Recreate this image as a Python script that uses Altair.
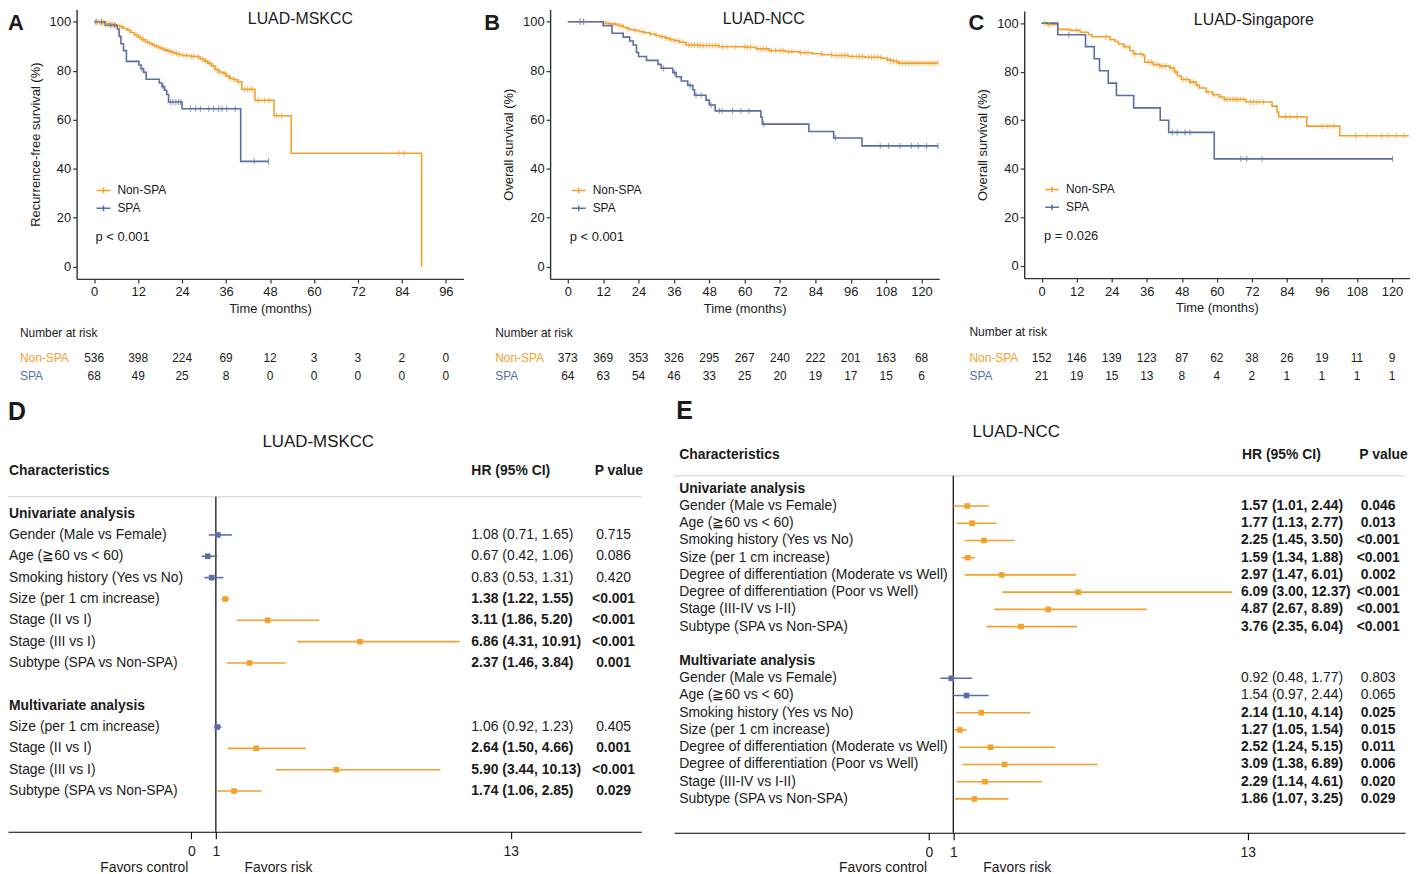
import altair as alt
import numpy as np
import pandas as pd

# ---------------------------------------------------------------- data
GROUPS = ["Non-SPA", "SPA"]

# A: LUAD-MSKCC, recurrence-free survival (step points, censor times, risk table)
a_non_t = [0, 1.5, 3, 4.5, 6, 7, 8, 9, 10, 11, 12, 13, 14, 15, 16, 17, 18, 19, 20, 21, 22, 23, 24,
           26, 28, 29, 30, 31, 32, 33, 34, 35, 36, 37, 38, 39, 40.3, 43.9, 49.1, 53.8, 89.4]
a_non_s = [100, 99.6, 99.2, 98.8, 98.4, 97.9, 97.2, 96.5, 95.6, 94.6, 93.6, 92.6, 91.7, 91.0, 90.3,
           89.7, 89.1, 88.5, 88.0, 87.5, 87.0, 86.6, 86.2, 85.9, 85.6, 84.8, 83.9, 83.0, 81.9, 80.4,
           79.5, 79.0, 77.8, 76.8, 76.4, 75.5, 72.4, 67.9, 61.6, 46.3, 0]
a_non_cens = [0.5, 1, 1.8, 2.5, 3.2, 4, 5, 5.8, 7.5, 9.5, 11.5, 12.5, 13.5, 14.5, 15.5, 16.5, 17.5,
              18.5, 19.5, 20.5, 21.5, 22.5, 23.2, 24.5, 25.2, 26.5, 27.2, 28.5, 29.5, 30.5, 31.5,
              32.5, 33.5, 34.2, 35.5, 36.5, 37.2, 38.2, 39.5, 41, 41.8, 42.5, 43.2, 44.8, 46.5,
              47.8, 49.8, 51.2, 83.2, 84.5]
a_spa_t = [0, 3, 6.3, 6.8, 7.3, 8.0, 8.8, 12.2, 12.8, 13.5, 14.2, 17.8, 18.5, 19.2, 19.8, 20.3,
           24.0, 40.0, 47.6]
a_spa_s = [100, 98.5, 97.0, 94.0, 91.0, 88.2, 83.8, 82.3, 80.8, 79.3, 76.5, 75.0, 73.5, 72.0, 70.3,
           67.2, 64.5, 43.0, 43.0]
a_spa_cens = [0.5, 2, 4.5, 5.5, 13, 18.8, 20.8, 21.5, 22.3, 23.0, 23.6, 26.3, 27.7, 29.0, 31.3,
              32.6, 34.0, 34.9, 36.2, 38.5, 43.7, 47.6]
a_risk_t = [0, 12, 24, 36, 48, 60, 72, 84, 96]
a_risk_non = [536, 398, 224, 69, 12, 3, 3, 2, 0]
a_risk_spa = [68, 49, 25, 8, 0, 0, 0, 0, 0]

# B: LUAD-NCC, overall survival
b_non_t = [0, 12, 14, 15.5, 17, 18.8, 20, 21, 22.5, 24.4, 26, 27.8, 29.5, 31.2, 33, 34.5, 36, 37.9,
           40.1, 44.6, 51.4, 60.4, 63.8, 68.3, 73.9, 78.4, 82.9, 86.3, 89.6, 95.3, 100.9, 106.5,
           108.2, 109.3, 110.4, 112.1, 125.6]
b_non_s = [100, 99.5, 99.2, 99.0, 98.4, 97.7, 97.2, 96.8, 96.4, 95.9, 95.5, 95.0, 94.5, 93.9, 93.3,
           92.7, 92.2, 91.6, 90.5, 90.3, 89.8, 89.6, 88.9, 88.2, 87.8, 87.3, 86.9, 86.5, 86.2, 85.8,
           85.5, 85.1, 84.6, 84.2, 83.8, 83.1, 83.1]
b_non_cens = [4.2, 5.5, 13, 16, 18, 20.5, 23, 25.5, 28, 30, 32, 33.5, 35, 36.5, 37.5, 39, 41, 42, 43,
              44, 45, 46, 47, 48, 49, 50, 51, 52.5, 54, 57, 60, 61, 62, 64.5, 65.5, 66.5, 67.5, 69,
              70.5, 72, 73, 75, 76, 79, 80.5, 81.5, 86, 89.5, 91, 92, 93, 94, 95, 96.5, 98, 99,
              100, 102, 103, 104, 105, 106, 108.5, 109.5, 110.5, 111.5, 112.5, 113.5, 114.5,
              115.5, 116.5, 117.5, 118.5, 119.5, 120.5, 121.5, 122.5, 123.5, 124.5, 125.5]
b_spa_t = [0, 12, 15, 18.8, 21, 22.2, 23.3, 24, 26.7, 30.6, 31.7, 35.6, 36.8, 38.5, 40.7, 42.4, 43,
           46.9, 48, 50, 65.5, 66, 81.8, 90.2, 99.8, 125.6]
b_spa_s = [100, 98.4, 95.3, 93.7, 92.1, 90.5, 87.4, 85.8, 84.2, 82.6, 81.0, 79.2, 77.5, 75.8, 74.0,
           72.2, 70.0, 68.0, 66.0, 63.6, 61.0, 58.2, 55.2, 52.5, 49.3, 49.3]
b_spa_cens = [4.2, 5.3, 32.5, 36.2, 41.5, 43.5, 45.2, 48.6, 51.4, 52.3, 55.9, 58.7, 61.5, 66.5,
              90.8, 106, 108.8, 112.7, 116.6, 118.9, 121.7, 125.6]
b_risk_t = [0, 12, 24, 36, 48, 60, 72, 84, 96, 108, 120]
b_risk_non = [373, 369, 353, 326, 295, 267, 240, 222, 201, 163, 68]
b_risk_spa = [64, 63, 54, 46, 33, 25, 20, 19, 17, 15, 6]

# C: LUAD-Singapore, overall survival
c_non_t = [0, 1.9, 5.5, 9.8, 13.2, 16, 17.2, 23.4, 25.1, 26.3, 28, 30.2, 31.4, 34.8, 35.3, 38.2,
           40.4, 43.8, 45.5, 46.5, 47.8, 50.6, 52.9, 54, 56.3, 58.5, 60.8, 62.5, 69.9, 78.9, 80.6,
           81.2, 90.8, 102.1, 125.8]
c_non_s = [100, 99.3, 97.4, 97.0, 96.2, 95.2, 94.4, 93.2, 92.4, 91.4, 90.3, 88.7, 87.3, 86.6, 83.9,
           82.9, 82.3, 81.5, 79.8, 78.2, 76.8, 75.7, 74.4, 73.3, 71.6, 70.5, 69.6, 68.6, 67.5, 65.8,
           63.4, 61.4, 57.6, 53.6, 53.6]
c_non_cens = [1, 2.5, 12, 22, 28.5, 32, 34, 36.5, 37.5, 38.5, 39.5, 40.5, 41.5, 42.5, 44, 45, 46,
              48.5, 49.5, 51, 52, 53.5, 57, 59, 61.5, 62.8, 63.5, 64.5, 65.5, 66.3, 67, 68, 69,
              71.5, 72.5, 73.5, 74.5, 76, 83.5, 85, 87.5, 96, 98, 100, 107.5, 111.5, 116.5,
              118.5, 121.5, 124]
c_spa_t = [0, 5.5, 15, 18, 19.8, 22.8, 25.6, 31.5, 40.6, 43.5, 59.1, 120.2]
c_spa_s = [100, 95.2, 90.3, 85.3, 80.4, 75.3, 70.2, 65.1, 60.0, 55.0, 44.1, 44.1]
c_spa_cens = [9.3, 44.7, 46.4, 49.1, 50.8, 68.2, 70.2, 75.5, 120.2]
c_risk_t = [0, 12, 24, 36, 48, 60, 72, 84, 96, 108, 120]
c_risk_non = [152, 146, 139, 123, 87, 62, 38, 26, 19, 11, 9]
c_risk_spa = [21, 19, 15, 13, 8, 4, 2, 1, 1, 1, 1]

# D: LUAD-MSKCC Cox regression
d_uni_labels = ["Gender (Male vs Female)", "Age (≧60 vs < 60)", "Smoking history (Yes vs No)",
                "Size (per 1 cm increase)", "Stage (II vs I)", "Stage (III vs I)",
                "Subtype (SPA vs Non-SPA)"]
d_uni_hr = [1.08, 0.67, 0.83, 1.38, 3.11, 6.86, 2.37]
d_uni_lo = [0.71, 0.42, 0.53, 1.22, 1.86, 4.31, 1.46]
d_uni_hi = [1.65, 1.06, 1.31, 1.55, 5.20, 10.91, 3.84]
d_uni_p = ["0.715", "0.086", "0.420", "<0.001", "<0.001", "<0.001", "0.001"]
d_multi_labels = ["Size (per 1 cm increase)", "Stage (II vs I)", "Stage (III vs I)",
                  "Subtype (SPA vs Non-SPA)"]
d_multi_hr = [1.06, 2.64, 5.90, 1.74]
d_multi_lo = [0.92, 1.50, 3.44, 1.06]
d_multi_hi = [1.23, 4.66, 10.13, 2.85]
d_multi_p = ["0.405", "0.001", "<0.001", "0.029"]

# E: LUAD-NCC Cox regression
e_labels = ["Gender (Male vs Female)", "Age (≧60 vs < 60)", "Smoking history (Yes vs No)",
            "Size (per 1 cm increase)", "Degree of differentiation (Moderate vs Well)",
            "Degree of differentiation (Poor vs Well)", "Stage (III-IV vs I-II)",
            "Subtype (SPA vs Non-SPA)"]
e_uni_hr = [1.57, 1.77, 2.25, 1.59, 2.97, 6.09, 4.87, 3.76]
e_uni_lo = [1.01, 1.13, 1.45, 1.34, 1.47, 3.00, 2.67, 2.35]
e_uni_hi = [2.44, 2.77, 3.50, 1.88, 6.01, 12.37, 8.89, 6.04]
e_uni_p = ["0.046", "0.013", "<0.001", "<0.001", "0.002", "<0.001", "<0.001", "<0.001"]
e_multi_hr = [0.92, 1.54, 2.14, 1.27, 2.52, 3.09, 2.29, 1.86]
e_multi_lo = [0.48, 0.97, 1.10, 1.05, 1.24, 1.38, 1.14, 1.07]
e_multi_hi = [1.77, 2.44, 4.14, 1.54, 5.15, 6.89, 4.61, 3.25]
e_multi_p = ["0.803", "0.065", "0.025", "0.015", "0.011", "0.006", "0.020", "0.029"]

# ---------------------------------------------------------------- style / layout
ORANGE = "#F2A12C"
BLUE = "#5A6EA6"
INK = "#1a1a1a"
FONT = "Liberation Sans"
W, H = 1410, 866

KM_CFG = {
    "A": dict(xdom=[-4.8, 100.8], xr=[69, 458], yr=[270, -1], legx=88, legy=173,
              title_xy=(294, 9), p_xy=(88, 228), letter_xy=(0, 20), risk_head=(12, 324),
              risk_y=(350, 368), xticks=list(range(0, 97, 12))),
    "B": dict(xdom=[-6, 126], xr=[545.2, 936.5], yr=[270, -1], legx=566, legy=173,
              title_xy=(760, 9), p_xy=(565, 228), letter_xy=(479, 20), risk_head=(490, 324),
              risk_y=(350, 368), xticks=list(range(0, 121, 12))),
    "C": dict(xdom=[-6, 126], xr=[1022, 1409.5], yr=[269.2, 0.5], legx=1042, legy=172,
              title_xy=(1253, 10), p_xy=(1042, 227), letter_xy=(966, 20), risk_head=(967, 323),
              risk_y=(350, 368), xticks=list(range(0, 121, 12))),
}

FOREST_CFG = {
    "D": dict(xdom=[-7.456, 18.31], xr=[0, 637], ydom=[-4, 14.91], yr=[420.16, 826],
              hline_k=-0.79, lab_x=1, hr_x=466, p_x=609, head_y=463, hr_head_x=466,
              p_head_x=590, title_xy=(312, 434), letter_xy=(0, 412), kmulti=9,
              fav_c=(137, 862), fav_r=(272, 862)),
    "E": dict(xdom=[-10.377, 19.416], xr=[670, 1405], ydom=[-4, 19.965], yr=[411.68, 827],
              hline_k=-0.75, lab_x=675, hr_x=1240, p_x=1378, head_y=447, hr_head_x=1241,
              p_head_x=1359, title_xy=(1014, 424), letter_xy=(672, 411), kmulti=10,
              fav_c=(880, 862), fav_r=(1015, 862)),
}


def txt(text, xy, size=13, weight="normal", align="left", color=INK, baseline="middle"):
    return alt.Chart(pd.DataFrame({"label": [text]})).mark_text(
        align=align, baseline=baseline, fontSize=size, fontWeight=weight, color=color, font=FONT
    ).encode(x=alt.value(xy[0]), y=alt.value(xy[1]), text="label:N")


def step_at(ts, ss, v):
    i = int(np.searchsorted(np.array(ts), v, side="right")) - 1
    return ss[max(i, 0)]


def km_layers(c, non_t, non_s, non_c, spa_t, spa_s, spa_c, rt, rnon, rspa, ytitle, title, ptext, letter):
    xs = alt.Scale(domain=c["xdom"], range=c["xr"], nice=False, zero=False)
    ys = alt.Scale(domain=[-5, 105], range=c["yr"], nice=False, zero=False)
    cs = alt.Scale(domain=GROUPS, range=[ORANGE, BLUE])
    curves = pd.concat([
        pd.DataFrame({"t": non_t, "s": non_s, "g": "Non-SPA"}),
        pd.DataFrame({"t": spa_t, "s": spa_s, "g": "SPA"}),
    ])
    cens = pd.concat([
        pd.DataFrame({"t": non_c, "s": [step_at(non_t, non_s, v) for v in non_c], "g": "Non-SPA"}),
        pd.DataFrame({"t": spa_c, "s": [step_at(spa_t, spa_s, v) for v in spa_c], "g": "SPA"}),
    ])
    line = alt.Chart(curves).mark_line(interpolate="step-after", strokeWidth=1.6).encode(
        x=alt.X("t:Q", scale=xs, axis=alt.Axis(
            orient="bottom", offset=c["yr"][0] - H, values=c["xticks"], title="Time (months)",
            labelPadding=3, titlePadding=4)),
        y=alt.Y("s:Q", scale=ys, axis=alt.Axis(
            orient="left", offset=-c["xr"][0], values=[0, 20, 40, 60, 80, 100], title=ytitle,
            labelPadding=2, titlePadding=7)),
        color=alt.Color("g:N", scale=cs, legend=alt.Legend(
            orient="none", legendX=c["legx"], legendY=c["legy"], title=None, direction="vertical",
            symbolType="M-1,0H1M0,-0.42V0.42", symbolSize=196, symbolStrokeWidth=1.5,
            labelFontSize=12, labelFont=FONT, labelColor=INK, labelOffset=6, rowPadding=4,
            padding=0)),
    )
    ticks = alt.Chart(cens).mark_tick(orient="vertical", size=6, thickness=1.1).encode(
        x=alt.X("t:Q", scale=xs, axis=None),
        y=alt.Y("s:Q", scale=ys, axis=None),
        color=alt.Color("g:N", scale=cs, legend=None),
    )
    risk = pd.DataFrame({"t": rt + rt, "n": rnon + rspa, "r": [0] * len(rt) + [1] * len(rt)})
    risk_txt = alt.Chart(risk).mark_text(fontSize=12, font=FONT, color=INK, baseline="middle").encode(
        x=alt.X("t:Q", scale=xs, axis=None),
        y=alt.Y("r:Q", scale=alt.Scale(domain=[0, 1], range=list(c["risk_y"]), nice=False, zero=False),
                axis=None),
        text="n:Q",
    )
    hx, hy = c["risk_head"]
    return [
        line, ticks, risk_txt,
        txt(title, c["title_xy"], size=16, align="center"),
        txt(ptext, c["p_xy"], size=13),
        txt(letter, c["letter_xy"], size=22, weight="bold", baseline="alphabetic"),
        txt("Number at risk", (hx, hy), size=12),
        txt("Non-SPA", (hx, c["risk_y"][0]), size=12, color=ORANGE),
        txt("SPA", (hx, c["risk_y"][1]), size=12, color=BLUE),
    ]


def is_sig(p):
    return p.startswith("<") or float(p) < 0.05


def forest_layers(c, uni, multi, title, letter):
    rows = []
    for block, k0 in ((uni, 0), (multi, c["kmulti"])):
        labels, hr, lo, hi, p = block
        for i in range(len(labels)):
            rows.append({"k": k0 + 1 + i, "label": labels[i], "hr": hr[i], "lo": lo[i], "hi": hi[i],
                         "p": p[i], "sig": is_sig(p[i]),
                         "hrtxt": f"{hr[i]:.2f} ({lo[i]:.2f}, {hi[i]:.2f})"})
    df = pd.DataFrame(rows)
    df["col"] = np.where(df["sig"], ORANGE, BLUE)
    xs = alt.Scale(domain=c["xdom"], range=c["xr"], nice=False, zero=False)
    ys = alt.Scale(domain=c["ydom"], range=c["yr"], nice=False, zero=False)
    Y = alt.Y("k:Q", scale=ys, axis=None)

    hline = alt.Chart(pd.DataFrame({"x1": [c["xdom"][0]], "x2": [c["xdom"][1]], "k": [c["hline_k"]]})) \
        .mark_rule(color="#d0d0d0", strokeWidth=1).encode(
            x=alt.X("x1:Q", scale=xs, axis=None), x2="x2:Q", y=Y)
    vline = alt.Chart(pd.DataFrame({"x": [1], "k": [c["hline_k"]], "k2": [c["ydom"][1]]})) \
        .mark_rule(color="black", strokeWidth=1.2).encode(
            x=alt.X("x:Q", scale=xs, axis=None), y=Y, y2="k2:Q")
    ci = alt.Chart(df).mark_rule(strokeWidth=1.6).encode(
        x=alt.X("lo:Q", scale=xs, axis=alt.Axis(
            orient="bottom", offset=c["yr"][1] - H, values=[0, 1, 13], title=None,
            domainColor="black", domainWidth=1.1, tickColor="black", tickWidth=1.1, tickSize=7,
            labelFontSize=14, labelPadding=6, labelColor=INK)),
        x2="hi:Q", y=Y, color=alt.Color("col:N", scale=None))
    sq = alt.Chart(df).mark_square(size=32, opacity=1).encode(
        x=alt.X("hr:Q", scale=xs, axis=None), y=Y, color=alt.Color("col:N", scale=None))
    names = alt.Chart(df).mark_text(align="left", baseline="middle", fontSize=14, font=FONT, color=INK) \
        .encode(x=alt.value(c["lab_x"]), y=Y, text="label:N")
    sig_df = df[df["sig"]]
    ns_df = df[~df["sig"]]
    layers = [hline, vline, ci, sq, names]
    for sub, wt in ((sig_df, "bold"), (ns_df, "normal")):
        layers.append(alt.Chart(sub).mark_text(align="left", baseline="middle", fontSize=14, font=FONT,
                                              color=INK, fontWeight=wt)
                      .encode(x=alt.value(c["hr_x"]), y=Y, text="hrtxt:N"))
        layers.append(alt.Chart(sub).mark_text(align="center", baseline="middle", fontSize=14, font=FONT,
                                              color=INK, fontWeight=wt)
                      .encode(x=alt.value(c["p_x"]), y=Y, text="p:N"))
    sec = pd.DataFrame({"label": ["Univariate analysis", "Multivariate analysis"], "k": [0, c["kmulti"]]})
    layers.append(alt.Chart(sec).mark_text(align="left", baseline="middle", fontSize=14, font=FONT,
                                           color=INK, fontWeight="bold")
                  .encode(x=alt.value(c["lab_x"]), y=Y, text="label:N"))
    layers += [
        txt("Characteristics", (c["lab_x"], c["head_y"]), size=14, weight="bold"),
        txt("HR (95% CI)", (c["hr_head_x"], c["head_y"]), size=14, weight="bold"),
        txt("P value", (c["p_head_x"], c["head_y"]), size=14, weight="bold"),
        txt(title, c["title_xy"], size=17, align="center"),
        txt(letter, c["letter_xy"], size=25, weight="bold", baseline="alphabetic"),
        txt("Favors control", c["fav_c"], size=14, align="center"),
        txt("Favors risk", c["fav_r"], size=14, align="center"),
    ]
    return layers


layers = []
layers += km_layers(KM_CFG["A"], a_non_t, a_non_s, a_non_cens, a_spa_t, a_spa_s, a_spa_cens,
                    a_risk_t, a_risk_non, a_risk_spa, "Recurrence-free survival (%)", "LUAD-MSKCC",
                    "p < 0.001", "A")
layers += km_layers(KM_CFG["B"], b_non_t, b_non_s, b_non_cens, b_spa_t, b_spa_s, b_spa_cens,
                    b_risk_t, b_risk_non, b_risk_spa, "Overall survival (%)", "LUAD-NCC",
                    "p < 0.001", "B")
layers += km_layers(KM_CFG["C"], c_non_t, c_non_s, c_non_cens, c_spa_t, c_spa_s, c_spa_cens,
                    c_risk_t, c_risk_non, c_risk_spa, "Overall survival (%)", "LUAD-Singapore",
                    "p = 0.026", "C")
layers += forest_layers(FOREST_CFG["D"],
                        (d_uni_labels, d_uni_hr, d_uni_lo, d_uni_hi, d_uni_p),
                        (d_multi_labels, d_multi_hr, d_multi_lo, d_multi_hi, d_multi_p),
                        "LUAD-MSKCC", "D")
layers += forest_layers(FOREST_CFG["E"],
                        (e_labels, e_uni_hr, e_uni_lo, e_uni_hi, e_uni_p),
                        (e_labels, e_multi_hr, e_multi_lo, e_multi_hi, e_multi_p),
                        "LUAD-NCC", "E")

chart = (
    alt.layer(*layers)
    .resolve_scale(x="independent", y="independent", color="independent")
    .resolve_axis(x="independent", y="independent")
    .resolve_legend(color="independent")
    .properties(width=W, height=H, padding=0, background="white",
                autosize=alt.AutoSizeParams(type="none"))
    .configure_view(stroke=None)
    .configure_axis(
        grid=False, domainColor="#333333", domainWidth=1.4, tickColor="#333333", tickWidth=1.2,
        tickSize=4, labelFont=FONT, titleFont=FONT, labelFontSize=13, titleFontSize=13,
        labelColor=INK, titleColor=INK, titleFontWeight="normal", labelFlush=False,
        labelOverlap=False,
    )
)

chart.save("out.html", embed_options={"renderer": "svg", "actions": False})
